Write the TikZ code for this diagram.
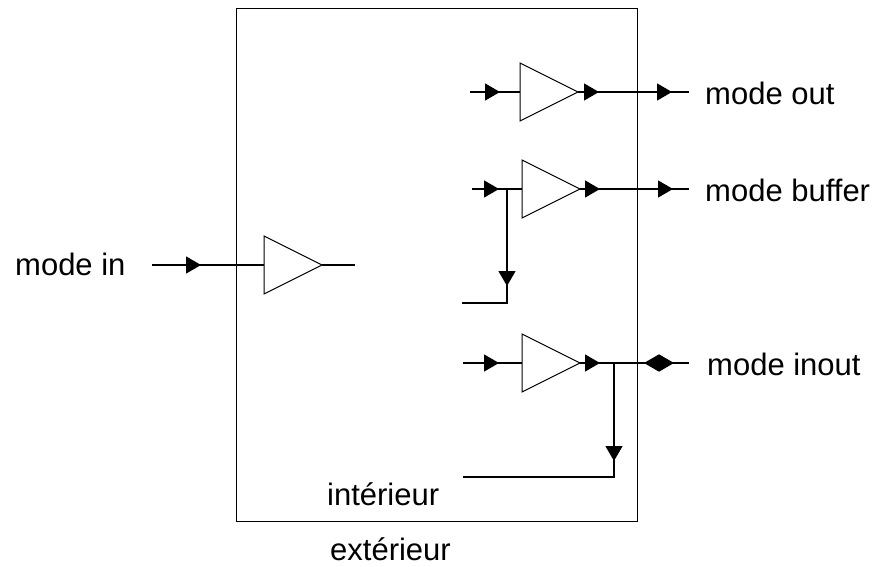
\documentclass[tikz,border=0pt]{standalone}
\usepackage{fontspec}
\setmainfont{Liberation Sans}
\usetikzlibrary{shapes.geometric,arrows.meta,decorations.markings}
\begin{document}
\begin{tikzpicture}[x=1pt,y=-1pt, >={Triangle[length=15pt,width=17pt]}]
    \tikzstyle{buffer}=[draw, isosceles triangle, isosceles triangle stretches,
        inner sep=0pt, outer sep=0pt, minimum width=58pt, minimum height=58pt, line width=1pt]
    \tikzstyle{wire}=[line width=1.4pt, line join=miter]
    \tikzstyle{tipat}=[postaction={decorate, decoration={markings,
        mark=at position #1 with {\arrow{>}}}}]
    \tikzstyle{backtipat}=[postaction={decorate, decoration={markings,
        mark=at position #1 with {\arrowreversed{>}}}}]
    \tikzstyle{label}=[anchor=base west, inner sep=0pt, font=\fontsize{31}{37}\selectfont]
    \useasboundingbox (0,0) rectangle (878,567);
    % boundary
    \node[draw, line width=1.4pt, inner sep=0pt, anchor=north west,
        minimum width=401pt, minimum height=513pt] (box) at (236,8) {};
    % mode in
    \coordinate (in0) at (152,265);
    \node[buffer, anchor=west] (b0) at (264,265) {};
    \coordinate (out0) at (355,265);
    \draw[wire, tipat=49pt] (in0) -- (b0.west);
    \draw[wire] (b0.east) -- (out0);
    % mode out
    \coordinate (in1) at (470,92);
    \node[buffer, anchor=west] (b1) at (520,92) {};
    \coordinate (out1) at (689,92);
    \draw[wire, tipat=30pt] (in1) -- (b1.west);
    \draw[wire, tipat=21pt, tipat=94pt] (b1.east) -- (out1);
    % mode buffer
    \coordinate (in2) at (472,189);
    \coordinate (j2) at (507,189);
    \node[buffer, anchor=west] (b2) at (522,189) {};
    \coordinate (out2) at (689,189);
    \coordinate (f2) at (507,303);
    \coordinate (g2) at (462,303);
    \draw[wire, tipat=27pt] (in2) -- (b2.west);
    \draw[wire, tipat=20pt, tipat=93pt] (b2.east) -- (out2);
    \draw[wire, tipat=97pt] (j2) -- (f2) -- (g2);
    % mode inout
    \coordinate (in3) at (463,363);
    \node[buffer, anchor=west] (b3) at (522,363) {};
    \coordinate (j3) at (614,363);
    \coordinate (out3) at (689,363);
    \coordinate (f3) at (614,477);
    \coordinate (g3) at (463,477);
    \draw[wire, tipat=36pt] (in3) -- (b3.west);
    \draw[wire, tipat=20pt, backtipat=64pt, tipat=94pt] (b3.east) -- (out3);
    \draw[wire, tipat=98pt] (j3) -- (f3) -- (g3);
    % texts
    \node[label] (lin) at (15,275) {mode in};
    \node[label] (lout) at (705,105) {mode out};
    \node[label] (lbuf) at (705,201) {mode buffer};
    \node[label] (lio) at (707,375) {mode inout};
    \node[label] (lint) at (327,505) {intérieur};
    \node[label] (lext) at (330,560) {extérieur};
\end{tikzpicture}
\end{document}
